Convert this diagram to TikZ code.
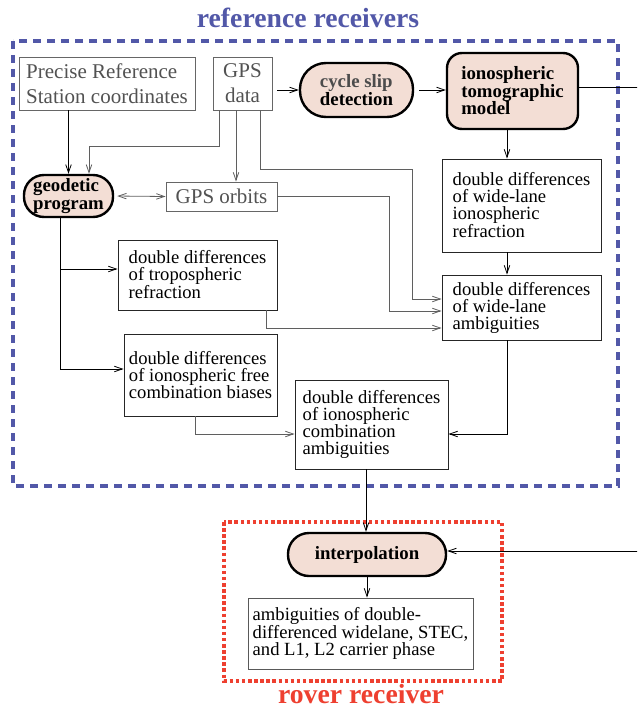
\documentclass[tikz,border=0pt]{standalone}
\usepackage{fontspec}
\setmainfont{Liberation Serif}
\usetikzlibrary{arrows.meta}
\definecolor{regblue}{RGB}{82,88,168}
\definecolor{regred}{RGB}{238,64,48}
\definecolor{pillfill}{RGB}{243,222,213}
\definecolor{grayline}{RGB}{95,95,95}
\newcommand{\fsN}{\fontsize{18.6}{17}\selectfont}
\newcommand{\fsG}{\fontsize{21}{25}\selectfont}
\newcommand{\fsB}{\fontsize{18.8}{17.5}\selectfont\bfseries}
\newcommand{\fsT}{\fontsize{27.7}{30}\selectfont\bfseries}
\tikzset{
  box/.style={draw=black!85, line width=0.9pt, fill=white, font=\fsN, align=left, inner sep=0pt},
  gbox/.style={draw=black!60, line width=0.9pt, fill=white, text=black!68, font=\fsG, align=left, inner sep=0pt},
  pillnode/.style={draw=black, line width=2.4pt, fill=pillfill, font=\fsB, align=left, inner sep=0pt, rounded corners=#1},
  conn/.style={->, line width=0.8pt, draw=black},
  gconn/.style={->, line width=0.8pt, draw=grayline},
  region/.style={line width=3.5pt}
}
\begin{document}
\begin{tikzpicture}[x=1pt,y=-1pt, >={Straight Barb[length=8pt,width=5.5pt]}]
\useasboundingbox (0,0) rectangle (637,709);
\clip (0,0) rectangle (637,709);

% regions
\draw[region, regblue, dash pattern=on 8pt off 6pt] (13,41) rectangle (618,486);
\draw[region, regred, dash pattern=on 3.5pt off 2.6pt] (224,522) rectangle (502,681);
\node[font=\fsT, text=regblue, anchor=base] (reftitle) at (308,28) {reference receivers};
\node[font=\fsT, text=regred, anchor=base] (rovtitle) at (361,703) {rover receiver};

% nodes
\node[gbox, minimum width=176pt, minimum height=53pt] (prec) at (107,83.5) {Precise Reference\\Station coordinates};
\node[gbox, align=center, minimum width=59pt, minimum height=53pt] (gps) at (242.5,83.5) {GPS\\data};
\node[pillnode=26pt, minimum width=113pt, minimum height=54pt] (slip) at (356.5,90) {{\color{black!70}cycle slip}\\detection};
\node[pillnode=15pt, minimum width=131pt, minimum height=76pt] (tomo) at (512.5,91) {ionospheric\\tomographic\\model};
\node[pillnode=20pt, minimum width=89pt, minimum height=42pt] (geo) at (68.5,196) {geodetic\\program};
\node[gbox, minimum width=111pt, minimum height=29pt] (orbits) at (221.5,196.5) {GPS orbits};
\node[box, minimum width=159pt, minimum height=93pt] (wlion) at (521.5,205.5) {double differences\\of wide-lane\\ionospheric\\refraction};
\node[box, minimum width=159pt, minimum height=70pt] (trop) at (197.5,275) {double differences\\of tropospheric\\refraction};
\node[box, minimum width=159pt, minimum height=65pt] (wlamb) at (521.5,307.5) {double differences\\of wide-lane\\ambiguities};
\node[box, minimum width=153pt, minimum height=82pt] (ionfree) at (200.5,375) {double differences\\of ionospheric free\\combination biases};
\node[box, minimum width=153pt, minimum height=89pt] (comb) at (371.5,424.5) {double differences\\of ionospheric\\combination\\ambiguities};
\node[pillnode=21pt, align=center, minimum width=158pt, minimum height=43pt] (interp) at (367,554.5) {interpolation};
\node[box, draw=black!65, minimum width=225pt, minimum height=71pt] (amb) at (360.5,633.5) {ambiguities of double-\\differenced widelane, STEC,\\and L1, L2 carrier phase};

% connectors
\draw[conn] (prec.south -| geo.north) -- (geo.north);
\draw[gconn] ([xshift=-23.5pt]gps.south) -- ++(0,36) -| ([xshift=20.5pt]geo.north);
\draw[gconn] ([xshift=-6.5pt]gps.south) -- ([xshift=-6.5pt]gps.south |- orbits.north);
\draw[gconn] ([xshift=17.5pt]gps.south) |- (412,169) |- ([yshift=8.5pt]wlamb.west);
\draw[gconn] (orbits.east) -| (389,311) -- ([yshift=-3.5pt]wlamb.west);
\draw[gconn, <->, shorten <=3pt] (geo.east) -- (orbits.west);
\draw[conn, shorten <=5pt] (gps.east |- slip.west) -- (slip.west);
\draw[conn, shorten <=5pt] (slip.east) -- (tomo.west |- slip.east);
\draw[conn] ([yshift=4pt]tomo.east) -- (660,87) |- ([yshift=3.5pt]interp.east);
\draw[conn] ([xshift=-5.5pt]tomo.south) -- ([xshift=-5.5pt]tomo.south |- wlion.north);
\draw[conn] ([xshift=-14.5pt]wlion.south) -- ([xshift=-14.5pt]wlamb.north);
\draw[conn] ([xshift=-8.5pt]geo.south) |- ([yshift=6pt]trop.west);
\draw[conn] ([xshift=-8.5pt]geo.south) |- ([yshift=6pt]ionfree.west);
\draw[gconn] ([xshift=68.5pt]trop.south) |- ([yshift=-20.5pt]wlamb.west);
\draw[gconn] ([xshift=-5.5pt]ionfree.south) |- ([yshift=-9.5pt]comb.west);
\draw[conn] ([xshift=-14.5pt]wlamb.south) |- ([yshift=-9.5pt]comb.east);
\draw[conn] ([xshift=-5.5pt]comb.south) -- ([xshift=-5.5pt]comb.south |- interp.north);
\draw[conn] (interp.south) -- (interp.south |- amb.north);
\end{tikzpicture}
\end{document}
